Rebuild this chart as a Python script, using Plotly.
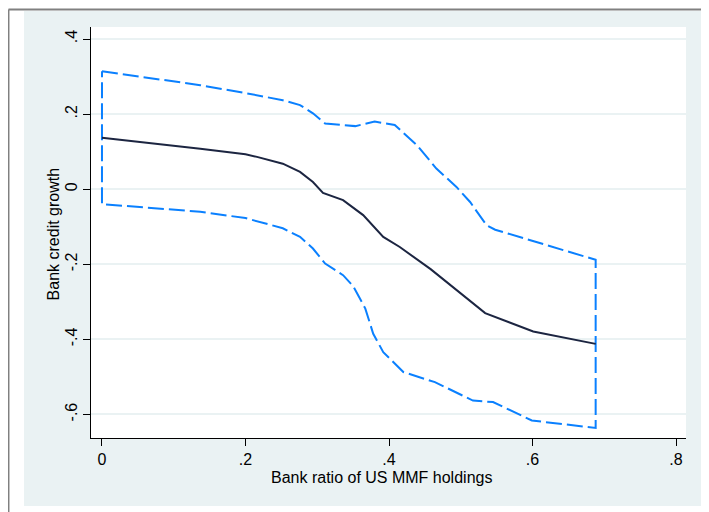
import plotly.graph_objects as go

# ---- data ----
mid_x = [0.000, 0.070, 0.137, 0.200, 0.216, 0.252, 0.276, 0.294, 0.308, 0.336, 0.364,
         0.392, 0.415, 0.458, 0.511, 0.534, 0.601, 0.688]
mid_y = [0.137, 0.123, 0.108, 0.093, 0.086, 0.068, 0.046, 0.019, -0.010, -0.029, -0.069,
         -0.127, -0.154, -0.213, -0.293, -0.330, -0.379, -0.412]

upper_x = [0.000, 0.137, 0.200, 0.252, 0.276, 0.294, 0.311, 0.353, 0.380, 0.408, 0.439,
           0.466, 0.494, 0.513, 0.536, 0.548, 0.597, 0.636, 0.688]
upper_y = [0.314, 0.277, 0.256, 0.237, 0.224, 0.202, 0.175, 0.168, 0.180, 0.171, 0.117,
           0.055, 0.006, -0.034, -0.096, -0.108, -0.136, -0.158, -0.188]

lower_x = [0.000, 0.137, 0.200, 0.252, 0.276, 0.294, 0.311, 0.336, 0.350, 0.367, 0.378,
           0.392, 0.420, 0.464, 0.517, 0.545, 0.599, 0.688]
lower_y = [-0.040, -0.060, -0.077, -0.104, -0.127, -0.158, -0.198, -0.229, -0.258, -0.318,
           -0.385, -0.434, -0.487, -0.514, -0.563, -0.567, -0.616, -0.636]

x_ticks = [0, 0.2, 0.4, 0.6, 0.8]
x_ticklabels = ["0", ".2", ".4", ".6", ".8"]
y_ticks = [-0.6, -0.4, -0.2, 0, 0.2, 0.4]
y_ticklabels = ["-.6", "-.4", "-.2", "0", ".2", ".4"]

x_title = "Bank ratio of US MMF holdings"
y_title = "Bank credit growth"

# closed confidence band outline (upper -> right edge -> lower reversed -> left edge)
band_x = upper_x + lower_x[::-1] + [upper_x[0]]
band_y = upper_y + lower_y[::-1] + [upper_y[0]]

FONT = "Liberation Sans, Arial, sans-serif"
BG = "#EAF2F3"

fig = go.Figure()
fig.add_trace(go.Scatter(x=band_x, y=band_y, mode="lines",
                         line=dict(color="#0A80FF", width=2, dash="16px,5px"),
                         hoverinfo="skip", showlegend=False))
fig.add_trace(go.Scatter(x=mid_x, y=mid_y, mode="lines",
                         line=dict(color="#1C2541", width=2),
                         showlegend=False))

fig.update_layout(
    width=701, height=504,
    margin=dict(l=83, r=23, t=19, b=74),
    paper_bgcolor="white",
    plot_bgcolor="rgba(0,0,0,0)",
    font=dict(family=FONT, size=16, color="black"),
    showlegend=False,
    shapes=[
        dict(type="rect", xref="paper", yref="paper", x0=-0.1126, x1=1.0286,
             y0=-0.1655, y1=1.039, fillcolor=BG, line=dict(width=0), layer="below"),
        dict(type="rect", xref="paper", yref="paper", x0=0, x1=1, y0=0, y1=1,
             fillcolor="white", line=dict(width=0), layer="below"),
        dict(type="line", xref="paper", yref="paper", x0=-0.1387, x1=1.04,
             y0=1.0426, y1=1.0426, line=dict(color="#808080", width=2), layer="below"),
        dict(type="line", xref="paper", yref="paper", x0=-0.1387, x1=-0.1387,
             y0=1.0426, y1=-0.2, line=dict(color="#808080", width=2), layer="below"),
    ],
    annotations=[
        dict(text=x_title, xref="paper", yref="paper", x=0.489, y=-0.0949,
             xanchor="center", yanchor="middle", showarrow=False,
             font=dict(size=16, family=FONT, color="black")),
        dict(text=y_title, xref="paper", yref="paper", x=-0.0639, y=0.4978,
             xanchor="center", yanchor="middle", textangle=-90, showarrow=False,
             font=dict(size=16, family=FONT, color="black")),
    ],
)

fig.update_xaxes(
    range=[-0.0153, 0.8139], tickvals=x_ticks, ticktext=x_ticklabels,
    showgrid=False, zeroline=False,
    showline=True, linecolor="black", linewidth=1,
    ticks="outside", ticklen=7, tickcolor="black", tickwidth=1,
    tickfont=dict(size=16),
)
fig.update_yaxes(
    range=[-0.6627, 0.432], tickvals=y_ticks, ticktext=y_ticklabels,
    showgrid=True, gridcolor=BG, gridwidth=1.5, zeroline=False,
    showline=True, linecolor="black", linewidth=1,
    ticks="outside", ticklen=7, tickcolor="black", tickwidth=1,
    tickangle=-90, tickfont=dict(size=16),
)

fig.write_html("out.html")
